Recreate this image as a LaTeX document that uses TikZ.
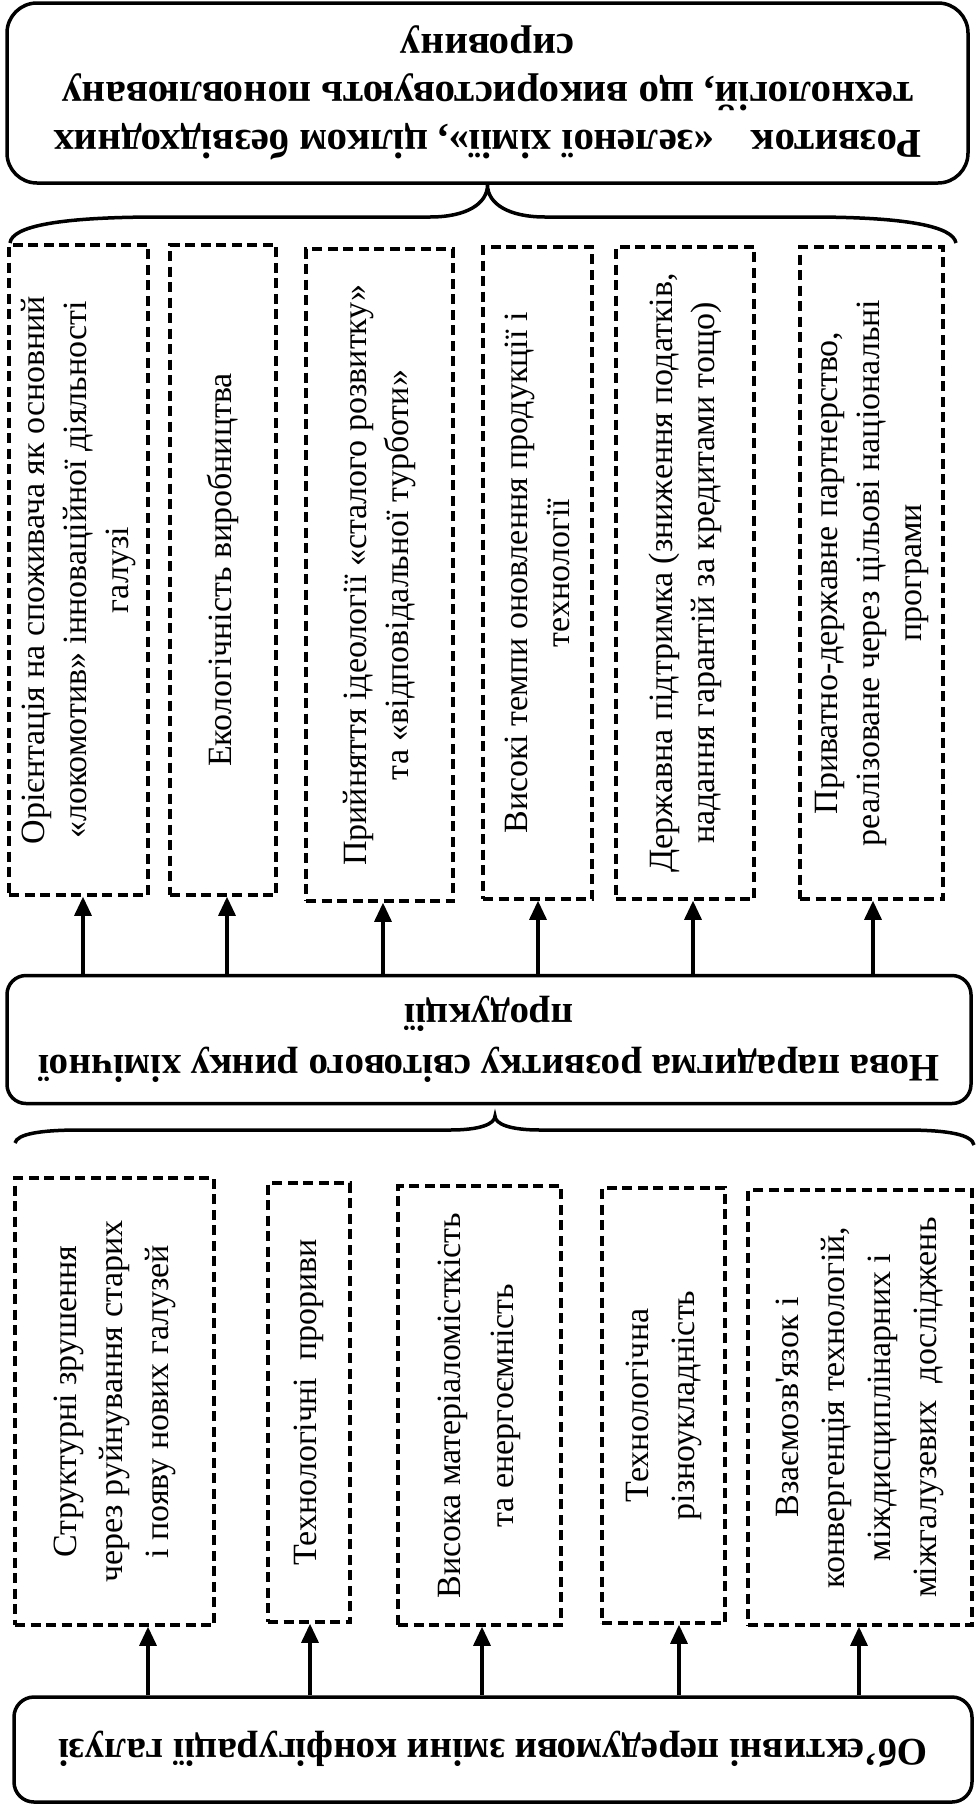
\documentclass[tikz,border=0pt]{standalone}
\usepackage{fontspec}
\setmainfont{Liberation Serif}
\usepackage{graphicx}
\usetikzlibrary{arrows.meta}
\tikzset{
 rbox/.style={draw, line width=3.5pt, inner sep=0pt, font=\bfseries\fontsize{39}{48}\selectfont},
 dbox/.style={draw, line width=3.5pt, dash pattern=on 10pt off 5.5pt, inner sep=0pt, font=\fontsize{34}{42}\selectfont},
 dboxb/.style={dbox, font=\fontsize{34}{46}\selectfont},
 arr/.style={-{Triangle[length=19pt,width=17pt]}, line width=3.2pt},
 brc/.style={line width=3.5pt},
}
\newcommand{\vtext}[2]{\rotatebox{90}{\parbox{#1}{\centering #2}}}
\newcommand{\utext}[2]{\rotatebox{180}{\parbox{#1}{\centering #2}}}
\begin{document}
\begin{tikzpicture}[x=1pt,y=-1pt]
\useasboundingbox (0,0) rectangle (976,1805);
% top goal
\node[rbox, rounded corners=30pt, minimum width=961pt, minimum height=180pt, font=\bfseries\fontsize{41}{48}\selectfont] (goal) at (487.5,93)
 {\utext{940pt}{Розвиток\hspace{0.9em}«зеленої хімії», цілком безвідходних\\технологій, що використовують поновлювану\\сировину}};
% top dashed boxes
\node[dbox, minimum width=139pt, minimum height=650pt] (t1) at (78.5,570)
 {\vtext{630pt}{Орієнтація на споживача як основний\\«локомотив» інноваційної діяльності\\галузі}};
\node[dbox, minimum width=106pt, minimum height=650pt] (t2) at (223,570)
 {\vtext{630pt}{Екологічність виробництва}};
\node[dbox, minimum width=147pt, minimum height=652pt] (t3) at (379.5,575)
 {\vtext{630pt}{Прийняття ідеології «сталого розвитку»\\та «відповідальної турботи»}};
\node[dbox, minimum width=109pt, minimum height=652pt] (t4) at (537.5,573)
 {\vtext{630pt}{Високі темпи оновлення продукції і\\технології}};
\node[dbox, minimum width=138pt, minimum height=652pt] (t5) at (685,573)
 {\vtext{630pt}{Державна підтримка (зниження податків,\\надання гарантій за кредитами тощо)}};
\node[dbox, minimum width=143pt, minimum height=652pt] (t6) at (871.5,573)
 {\vtext{630pt}{Приватно-державне партнерство,\\реалізоване через цільові національні\\програми}};
% middle
\node[rbox, rounded corners=19pt, minimum width=964pt, minimum height=128pt, font=\bfseries\fontsize{39}{51}\selectfont] (mid) at (489,1039.5)
 {\utext{940pt}{Нова парадигма розвитку світового ринку хімічної\\продукції}};
% bottom dashed boxes
\node[dboxb, minimum width=199pt, minimum height=447pt] (b1) at (114.5,1401.5)
 {\vtext{430pt}{Структурні зрушення\\через руйнування старих\\і появу нових галузей}};
\node[dboxb, minimum width=82pt, minimum height=439pt] (b2) at (309,1402.5)
 {\vtext{430pt}{Технологічні\ \ прориви}};
\node[dbox, minimum width=163pt, minimum height=439pt, font=\fontsize{34}{53}\selectfont] (b3) at (479.5,1405.5)
 {\vtext{430pt}{Висока матеріаломісткість\\та енергоємність}};
\node[dboxb, minimum width=123pt, minimum height=435pt] (b4) at (663.5,1405.5)
 {\vtext{430pt}{Технологічна\\різноукладність}};
\node[dboxb, minimum width=224pt, minimum height=435pt] (b5) at (860,1407.5)
 {\vtext{430pt}{Взаємозв\textquotesingle язок і\\конвергенція технологій,\\міждисциплінарних і\\міжгалузевих\ \ досліджень}};
% base
\node[rbox, rounded corners=20pt, minimum width=958pt, minimum height=105pt] (base) at (493,1749.5)
 {\utext{930pt}{Об’єктивні передумови зміни конфігурації галузі}};
% arrow x positions
\coordinate (xa1) at (83,0);
\coordinate (xa2) at (227,0);
\coordinate (xa3) at (383,0);
\coordinate (xa4) at (538,0);
\coordinate (xa5) at (693,0);
\coordinate (xa6) at (873,0);
\coordinate (xb1) at (148,0);
\coordinate (xb2) at (310,0);
\coordinate (xb3) at (482,0);
\coordinate (xb4) at (679,0);
\coordinate (xb5) at (859,0);
\foreach \i in {1,...,6}{
 \draw[arr] (mid.north -| xa\i) -- (t\i.south -| xa\i);
}
\foreach \i in {1,...,5}{
 \draw[arr] (base.north -| xb\i) -- (b\i.south -| xb\i);
}
% braces
\coordinate (br1L) at (10,243);
\coordinate (br1R) at (956,243);
\coordinate (br1T) at (goal.south);
\draw[brc] (br1L) .. controls (12,226) and (60,217) .. (160,217) -- (430,217)
  .. controls (466,217) and (487.5,204) .. (br1T)
  .. controls (487.5,204) and (509,217) .. (545,217) -- (810,217)
  .. controls (905,217) and (953,226) .. (br1R);
\coordinate (br2L) at (15,1143);
\coordinate (br2R) at (974,1145);
\coordinate (br2T) at (495,1116);
\draw[brc] (br2L) .. controls (17,1134) and (40,1130) .. (80,1130) -- (450,1130)
  .. controls (480,1130) and (495,1124) .. (br2T)
  .. controls (495,1124) and (510,1130) .. (540,1130) -- (905,1130)
  .. controls (950,1130) and (972,1135) .. (br2R);
\end{tikzpicture}
\end{document}
